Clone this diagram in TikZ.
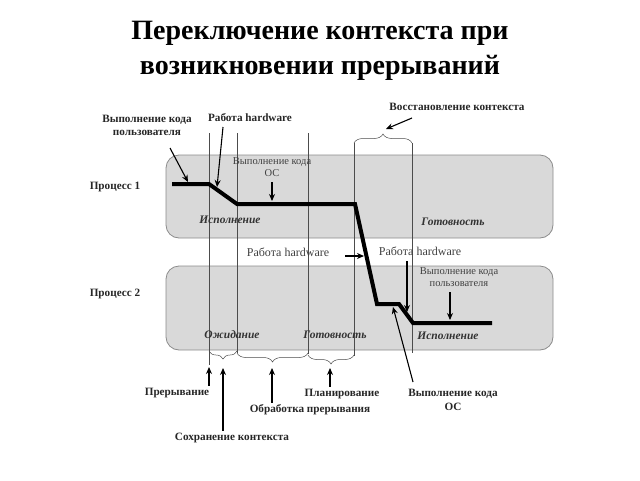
\documentclass[tikz,border=0pt]{standalone}
\usepackage{fontspec}
\setmainfont{Liberation Serif}
\usetikzlibrary{arrows.meta,decorations.pathreplacing}
\begin{document}
\begin{tikzpicture}[x=1pt,y=-1pt,
 ttl/.style={font=\fontsize{28}{32}\selectfont\bfseries, text=black, inner sep=0pt},
 lbl/.style={font=\fontsize{11.2}{13}\selectfont\bfseries, text=black!85, align=center, inner sep=0pt},
 lblr/.style={font=\fontsize{10.5}{12}\selectfont, text=black!75, align=center, inner sep=0pt},
 hw/.style={font=\fontsize{12}{13}\selectfont, text=black!75, inner sep=0pt},
 state/.style={font=\fontsize{11.5}{13}\selectfont\bfseries\itshape, text=black!80, inner sep=0pt},
 proc/.style={draw=black!45, fill=black!15, rounded corners=13pt, line width=0.8pt, inner sep=0pt},
 vline/.style={draw=black!70, line width=0.5pt},
 traj/.style={line width=4pt, black, line join=miter},
 arr/.style={-{Stealth[length=7pt,width=6pt]}, line width=1.1pt, black},
 brc/.style={decorate, decoration={brace, amplitude=#1}, draw=black!70, line width=0.5pt},
 brc/.default=8pt]
\useasboundingbox (0,0) rectangle (640,480);

% title
\node[ttl] (t1) at (320,33) {Переключение контекста при};
\node[ttl] (t2) at (320,68) {возникновении прерываний};

% process boxes
\node[proc, minimum width=387pt, minimum height=83pt] (p1) at (359.5,196.5) {};
\node[proc, minimum width=387pt, minimum height=84pt] (p2) at (359.5,308) {};

% vertical time lines
\draw[vline] (209,133) -- (209,365);
\draw[vline] (237,133) -- (237,353);
\draw[vline] (308,133) -- (308,354);
\draw[vline] (354,143) -- (354,356);
\draw[vline] (412,143) -- (412,353);

% braces
\draw[brc=9pt] (354,143) -- (412,143);
\draw[brc=8pt] (237,351) -- (209,351);
\draw[brc=9pt] (308,353) -- (237,353);
\draw[brc=9pt] (354,355) -- (308,355);

% trajectory
\coordinate (a0) at (172,184);
\coordinate (a1) at (209,184);
\coordinate (a2) at (237,204);
\coordinate (a3) at (355,204);
\coordinate (a4) at (377,304);
\coordinate (a5) at (399,304);
\coordinate (a6) at (413,323);
\coordinate (a7) at (492,323);
\draw[traj] (a0) -- (a1) -- (a2) -- (a3) -- (a4) -- (a5) -- (a6) -- (a7);

% labels
\node[lbl] (u1) at (147,125) {Выполнение кода\\пользователя};
\node[lbl] (h1) at (250,118) {Работа hardware};
\node[lblr] (os1) at (272,167) {Выполнение кода\\ОС};
\node[lbl] (rc) at (457,107) {Восстановление контекста};
\node[lbl] (pr1) at (115,187) {Процесс 1};
\node[lbl] (pr2) at (115,294) {Процесс 2};
\node[state] (s1) at (230,220) {Исполнение};
\node[state] (s2) at (453,222) {Готовность};
\node[state] (s3) at (232,335) {Ожидание};
\node[state] (s4) at (335,335) {Готовность};
\node[state] (s5) at (448,336) {Исполнение};
\node[hw] (h2) at (288,252) {Работа hardware};
\node[hw] (h3) at (420,251) {Работа hardware};
\node[lblr] (u2) at (459,277) {Выполнение кода\\пользователя};
\node[lbl] (b1) at (177,393) {Прерывание};
\node[lbl] (b2) at (232,438) {Сохранение контекста};
\node[lbl] (b3) at (310,410) {Обработка прерывания};
\node[lbl] (b4) at (342,394) {Планирование};
\node[lbl, font=\fontsize{11.2}{14}\selectfont\bfseries] (os2) at (453,400) {Выполнение кода\\ОС};

% arrow sources and targets
\coordinate (fu1) at (170,148);
\coordinate (tu1) at (188,182);
\coordinate (fh1) at (223,127);
\coordinate (th1) at (217,187);
\coordinate (fos1) at (272,182);
\coordinate (tos1) at (272,201);
\coordinate (frc) at (412,118);
\coordinate (trc) at (386,129);
\coordinate (fh2) at (345,256);
\coordinate (th2) at (364,256);
\coordinate (fh3) at (407,261);
\coordinate (th3) at (407,312);
\coordinate (fu2) at (450,292);
\coordinate (tu2) at (450,320);
\coordinate (fos2) at (413,382);
\coordinate (tos2) at (393,307);
\coordinate (tb1) at (209,367);
\coordinate (tb2) at (223,368);
\coordinate (tb3) at (272,368);
\coordinate (tb4) at (330,368);

% arrows
\draw[arr] (fu1) -- (tu1);
\draw[arr] (fh1) -- (th1);
\draw[arr] (fos1) -- (tos1);
\draw[arr] (frc) -- (trc);
\draw[arr] (fh2) -- (th2);
\draw[arr] (fh3) -- (th3);
\draw[arr] (fu2) -- (tu2);
\draw[arr] (fos2) -- (tos2);
\draw[arr] (b1.north -| tb1) ++(0,-2) -- (tb1);
\draw[arr] (b2.north -| tb2) ++(0,-2) -- (tb2);
\draw[arr] (b3.north -| tb3) ++(0,-2) -- (tb3);
\draw[arr] (b4.north -| tb4) ++(0,-2) -- (tb4);
\end{tikzpicture}
\end{document}
